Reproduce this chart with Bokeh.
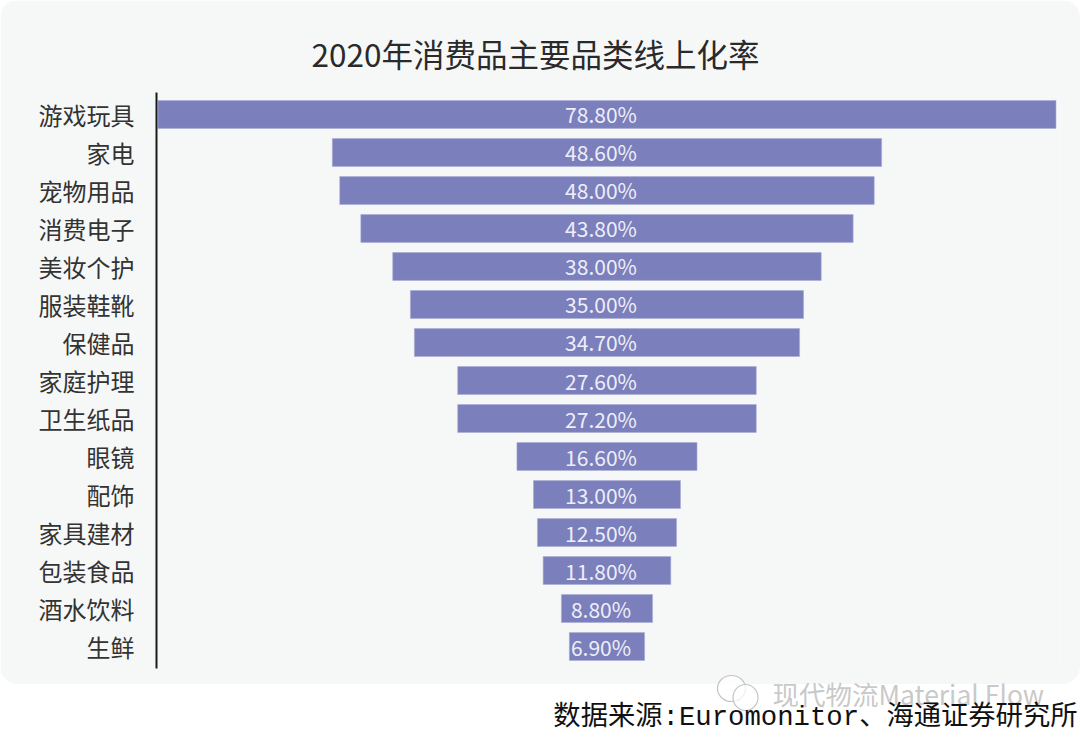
from bokeh.plotting import figure
from bokeh.layouts import column
from bokeh.models import ColumnDataSource, FactorRange, Range1d, Title
from bokeh.core.properties import value
from bokeh.embed import file_html
from bokeh.resources import INLINE

categories = ["游戏玩具", "家电", "宠物用品", "消费电子", "美妆个护", "服装鞋靴", "保健品",
              "家庭护理", "卫生纸品", "眼镜", "配饰", "家具建材", "包装食品", "酒水饮料", "生鲜"]
rate_labels = ["78.80%", "48.60%", "48.00%", "43.80%", "38.00%", "35.00%", "34.70%",
               "27.60%", "27.20%", "16.60%", "13.00%", "12.50%", "11.80%", "8.80%", "6.90%"]
# bar lengths as measured on the picture
bar_lengths = [78.8, 48.2, 46.9, 43.2, 37.6, 34.5, 33.8, 26.2, 26.2, 15.8, 12.9, 12.2, 11.2, 8.0, 6.6]

title_text = "2020年消费品主要品类线上化率"
source_text = "数据来源:Euromonitor、海通证券研究所"
mark_text = "现代物流Material Flow"

FONT = "Noto Sans CJK SC"
PANEL = "#F6F8F8"
half = [v / 2 for v in bar_lengths]
src = ColumnDataSource(dict(cat=categories, lab=rate_labels,
                            left=[-h for h in half], right=half, mid=[0] * len(half)))

p = figure(width=1080, height=684, output_backend="svg", toolbar_location=None,
           x_range=Range1d(-39.53, 39.71),
           y_range=FactorRange(factors=categories[::-1], range_padding=0.0785, range_padding_units="absolute"),
           min_border_left=156, min_border_right=21, min_border_top=92, min_border_bottom=16,
           background_fill_color=PANEL, border_fill_color=PANEL, outline_line_color=None,
           styles={"border-radius": "18px", "overflow": "hidden"})

p.hbar(y="cat", left="left", right="right", height=28 / 38.2, source=src,
       fill_color="#7B7FBC", line_color="#A9ABD4", line_width=0.6)
p.text(x="mid", y="cat", text="lab", source=src, text_align="center", text_baseline="middle",
       x_offset=-6, text_color="#EEEEF8", text_font=value(FONT), text_font_size="21px")

p.xaxis.visible = False
p.xgrid.visible = False
p.ygrid.visible = False
ax = p.yaxis[0]
ax.axis_line_color = "#1A1A1A"
ax.axis_line_width = 2
ax.major_tick_line_color = None
ax.minor_tick_line_color = None
ax.major_label_standoff = 16
ax.major_label_text_font = FONT
ax.major_label_text_font_size = "24px"
ax.major_label_text_color = "#333333"

p.title = Title(text=title_text, align="left", offset=155, standoff=33,
                text_font=FONT, text_font_size="31.5px", text_font_style="normal", text_color="#2A2A2A")

# footer strip: its frame is the whole strip, one data unit is one pixel
foot = figure(width=1080, height=70, output_backend="svg", toolbar_location=None,
              x_range=Range1d(0, 1080), y_range=Range1d(70, 0),
              min_border=0, background_fill_color=None, border_fill_color=None, outline_line_color=None,
              margin=(-12, 0, 0, 0))
foot.axis.visible = False
foot.grid.visible = False
foot.ellipse(x=[731, 745], y=[16, 25], width=[28, 25], height=[26, 26],
             fill_color="#FFFFFF", fill_alpha=0.75, line_color="#C4C4C4", line_width=1.2)
foot.text(x=[772], y=[21], text=[mark_text], text_align="left", text_baseline="middle",
          text_color="#C6C6C6", text_alpha=0.95, text_font=value(FONT), text_font_size="26.5px")
foot.text(x=[1077], y=[45], text=[source_text], text_align="right", text_baseline="middle",
          text_color="#111111", text_font=value("Liberation Mono, Noto Sans CJK SC"), text_font_size="27.3px")

open("out.html", "w").write(file_html(column(p, column(foot), spacing=0), INLINE))
